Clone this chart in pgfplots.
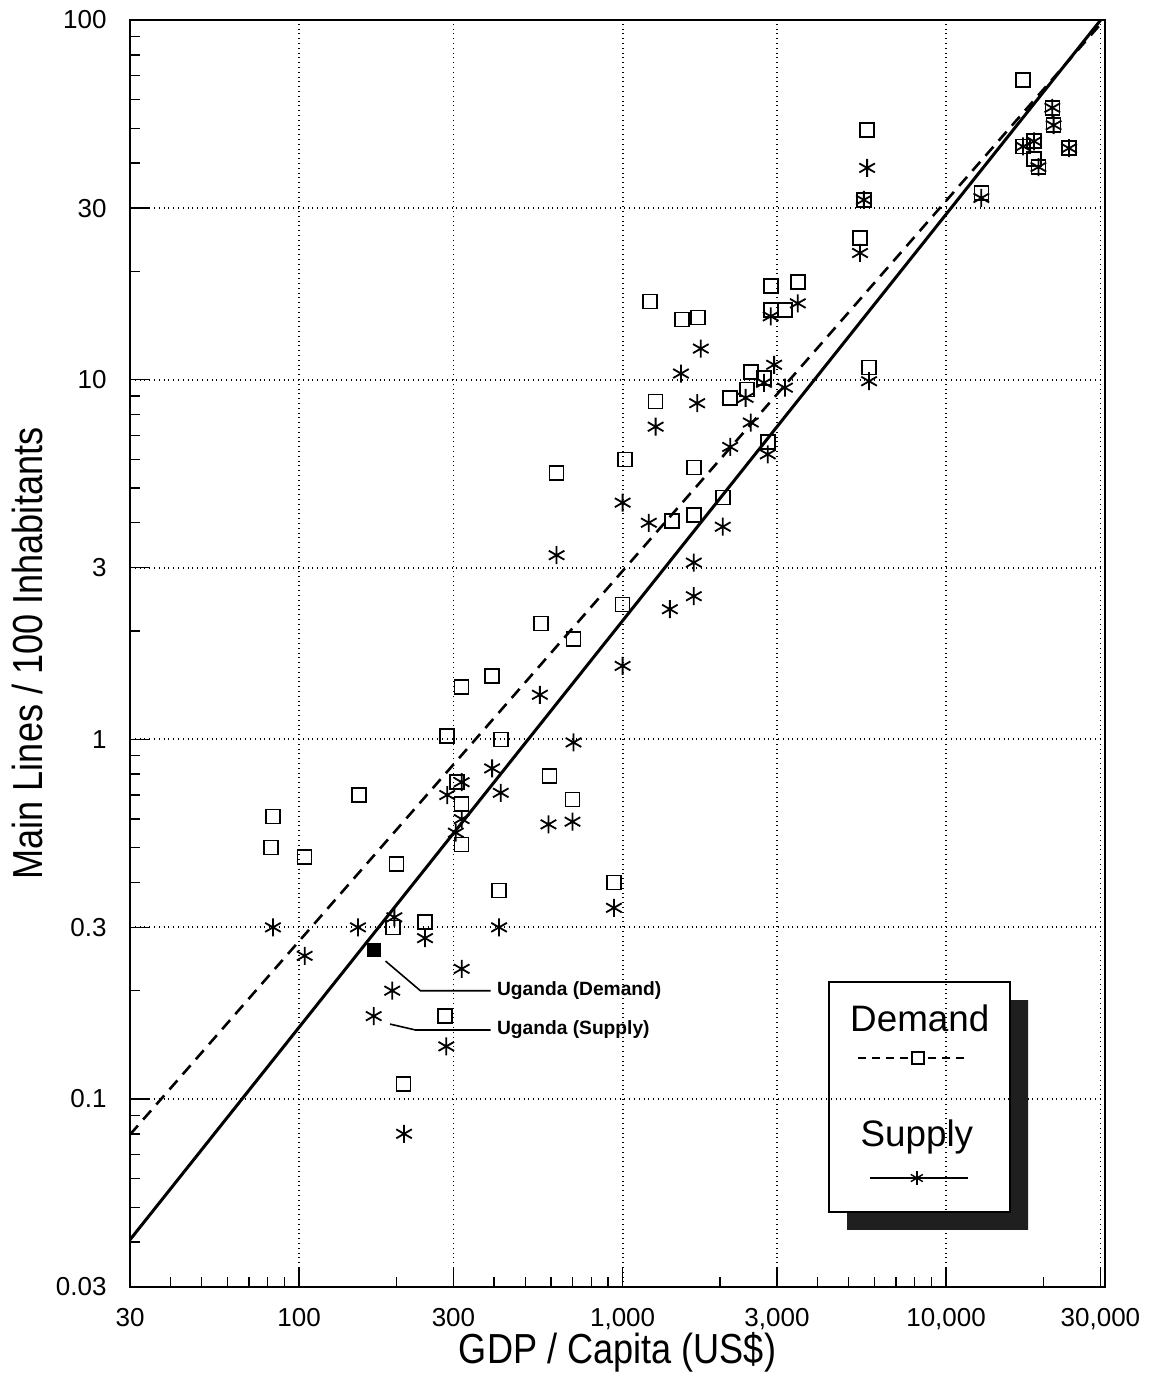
\documentclass[border=0pt]{standalone}
\usepackage{fontspec}
\setmainfont{Liberation Sans}[FakeStretch=0.86]
\newfontfamily\legfont{Liberation Sans}
\usepackage{pgfplots}
\usepackage{pgfplotstable}
\pgfplotsset{compat=1.18}
\usetikzlibrary{calc}

\pgfplotstableread{
x y
83 0.61
82 0.50
104 0.47
153 0.70
195 0.30
200 0.45
210 0.11
245 0.31
283 0.17
287 1.02
308 0.76
318 0.66
318 0.51
318 1.40
395 1.50
415 0.38
420 1.0
560 2.1
595 0.79
625 5.5
700 0.68
705 1.9
940 0.40
1000 2.37
1015 6.0
1215 16.5
1265 8.7
1420 4.05
1525 14.7
1660 5.7
1660 4.2
1710 14.9
2040 4.7
2150 8.9
2420 9.4
2490 10.5
2735 10.1
2810 6.7
2870 18.2
2870 15.6
3180 15.6
3480 18.7
5420 24.8
5570 31.6
5700 49.5
5780 10.8
12850 33
17300 68
17300 44.5
18700 46
18700 41
19300 39
21300 57
21500 51
24000 44
}\demand

\pgfplotstableread{
x y
83 0.30
104 0.25
152 0.30
197 0.32
194 0.20
170 0.17
211 0.08
245 0.28
285 0.14
287 0.70
305 0.55
318 0.60
318 0.76
318 0.23
395 0.83
415 0.30
420 0.71
555 1.33
590 0.58
625 3.25
700 0.59
705 0.98
940 0.34
1000 1.6
1000 4.55
1205 4.0
1265 7.4
1400 2.3
1515 10.4
1660 3.1
1660 2.5
1700 8.6
1745 12.2
2040 3.9
2150 6.5
2400 8.9
2490 7.6
2735 9.8
2810 6.2
2870 15.0
2940 11.0
3175 9.5
3480 16.3
5420 22.5
5570 31.6
5700 38.8
5780 9.9
12850 32
17300 44.5
18700 46
19300 39
21300 57
21500 51
24000 44
}\supply

\begin{document}
\begin{tikzpicture}
\begin{axis}[
  xmode=log, ymode=log,
  xmin=30, xmax=31000, ymin=0.03, ymax=100,
  scale only axis, width=487.5pt, height=633.5pt,
  xtick={30,100,300,1000,3000,10000,30000},
  xticklabels={30,100,300,{1,000},{3,000},{10,000},{30,000}},
  minor xtick={40,50,60,70,80,90,200,400,500,600,700,800,900,2000,4000,5000,6000,7000,8000,9000,20000},
  ytick={0.03,0.1,0.3,1,3,10,30,100},
  yticklabels={0.03,0.1,0.3,1,3,10,30,100},
  minor ytick={0.04,0.05,0.06,0.07,0.08,0.09,0.2,0.4,0.5,0.6,0.7,0.8,0.9,2,4,5,6,7,8,9,20,40,50,60,70,80,90},
  grid=major,
  major grid style={dotted, black, line width=0.9pt},
  minor grid style={draw=none},
  tick align=inside, tick pos=left,
  major tick length=10pt, minor tick length=5pt,
  every tick/.style={black, line width=0.7pt},
  axis line style={line width=1.2pt},
  xticklabel style={font=\legfont\fontsize{13}{14}\selectfont, inner sep=0pt, anchor=north, yshift=-10.5pt},
  yticklabel style={font=\legfont\fontsize{13}{14}\selectfont, inner sep=0pt, anchor=east, xshift=-11.5pt},
  xlabel={GDP / Capita (US\$)},
  ylabel={Main Lines / 100 Inhabitants},
  xlabel style={font=\fontsize{21}{24}\selectfont, inner sep=0pt, at={(axis description cs:0.5,-0.0513)}, anchor=center},
  ylabel style={font=\fontsize{21}{24}\selectfont, inner sep=0pt, at={(axis description cs:-0.105,0.5)}, anchor=center},
]
\addplot[black, line width=1.3pt, dash pattern=on 6pt off 4pt] coordinates {(30,0.0796) (30800,100)};
\addplot[black, line width=1.5pt] coordinates {(30,0.0406) (30060,100)};
\addplot[only marks, mark=square, mark size=3.5pt, mark options={black, line width=0.8pt}] table {\demand};
\addplot[only marks, mark=asterisk, mark size=4.5pt, mark options={black, line width=0.9pt}] table {\supply};
\addplot[only marks, mark=square*, mark size=3.2pt, mark options={black}] coordinates {(170,0.26)};

\draw[line width=0.8pt] (axis cs:185,0.2417) -- (axis cs:237,0.2) -- (axis cs:391,0.2);
\node[anchor=west, inner sep=3pt, font=\legfont\bfseries\fontsize{9.6}{11}\selectfont] at (axis cs:391,0.2) {Uganda (Demand)};
\draw[line width=0.8pt] (axis cs:191,0.1615) -- (axis cs:229,0.1555) -- (axis cs:391,0.1555);
\node[anchor=west, inner sep=3pt, font=\legfont\bfseries\fontsize{9.6}{11}\selectfont] at (axis cs:391,0.1555) {Uganda (Supply)};

% legend
\fill[black!88] (rel axis cs:0.7354,0.045) -- (rel axis cs:0.9211,0.045) -- (rel axis cs:0.9211,0.2265) -- (rel axis cs:0.9026,0.2265) -- (rel axis cs:0.9026,0.0592) -- (rel axis cs:0.7354,0.0592) -- cycle;
\draw[line width=0.7pt] (rel axis cs:0.717,0.0592) rectangle (rel axis cs:0.9026,0.2407);
\node[font=\legfont\fontsize{18.4}{20}\selectfont] at (rel axis cs:0.810,0.2123) {Demand};
\node[font=\legfont\fontsize{18.4}{20}\selectfont] at (rel axis cs:0.807,0.1184) {Supply};
\draw[line width=0.8pt, dash pattern=on 4pt off 3pt] (rel axis cs:0.747,0.1807) -- (rel axis cs:0.856,0.1807);
\draw[line width=0.7pt, fill=white] (rel axis cs:0.808,0.1807) ++(-3pt,-3pt) rectangle ++(6pt,6pt);
\draw[line width=0.8pt] (rel axis cs:0.759,0.086) -- (rel axis cs:0.859,0.086);
\draw[line width=0.7pt] (rel axis cs:0.807,0.086) ++(0pt,-3.5pt) -- ++(0pt,7pt);
\draw[line width=0.7pt] (rel axis cs:0.807,0.086) ++(-3pt,-1.8pt) -- ++(6pt,3.6pt);
\draw[line width=0.7pt] (rel axis cs:0.807,0.086) ++(-3pt,1.8pt) -- ++(6pt,-3.6pt);

\coordinate (BL) at (rel axis cs:0,0);
\coordinate (TR) at (rel axis cs:1,1);
\end{axis}
\pgfresetboundingbox
\path[use as bounding box] ($(BL)+(-65pt,-49pt)$) rectangle ($(TR)+(26pt,10pt)$);
\end{tikzpicture}
\end{document}
